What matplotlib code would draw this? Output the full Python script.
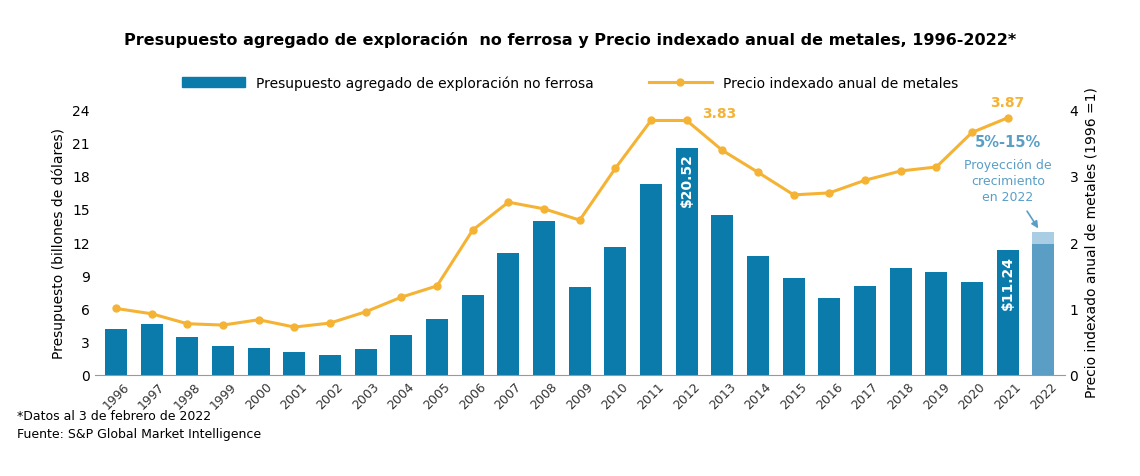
import matplotlib
matplotlib.use("Agg")
import matplotlib.pyplot as plt
import numpy as np

years = [str(y) for y in range(1996, 2023)]
budget = [4.15, 4.6, 3.4, 2.6, 2.4, 2.1, 1.8, 2.3, 3.6, 5.05, 7.2, 11.0, 13.9, 7.9, 11.55,
          17.2, 20.52, 14.4, 10.7, 8.75, 6.95, 8.0, 9.65, 9.3, 8.4, 11.24]
proj_low, proj_high = 11.8, 12.9
price = [1.0, 0.92, 0.77, 0.75, 0.83, 0.72, 0.78, 0.95, 1.17, 1.34, 2.18, 2.6, 2.5, 2.33, 3.11,
         3.83, 3.83, 3.38, 3.05, 2.71, 2.74, 2.93, 3.07, 3.13, 3.65, 3.87]

plt.rcParams['font.family'] = ['DejaVu Sans']
blue = '#0a7bab'
gold = '#f5b335'
fig = plt.figure(figsize=(11.4, 4.77), dpi=100)
ax = fig.add_axes([0.083, 0.212, 0.851, 0.557])
x = np.arange(len(years))
ax.bar(x[:-1], budget, width=0.62, color=blue, zorder=2)
ax.bar(x[-1], proj_low, width=0.62, color='#5a9ec6', zorder=2)
ax.bar(x[-1], proj_high - proj_low, bottom=proj_low, width=0.62, color='#a9cde3', zorder=2)
ax.set_ylim(0, 24)
ax.set_yticks(range(0, 25, 3))
ax.set_xlim(-0.6, len(years) - 0.4)
ax.set_xticks(x)
ax.set_xticklabels(years, rotation=45, fontsize=9, color='#333333')
ax.set_ylabel('Presupuesto (billones de dólares)', fontsize=10)
ax.tick_params(axis='y', labelsize=10, length=0)
ax.tick_params(axis='x', length=0)
for s in ['top', 'right', 'left']:
    ax.spines[s].set_visible(False)
ax.spines['bottom'].set_color('#999999')

ax2 = ax.twinx()
ax2.plot(x[:-1], price, color=gold, lw=2.2, marker='o', ms=5, zorder=3)
ax2.set_ylim(0, 4)
ax2.set_yticks(range(0, 5))
ax2.set_ylabel('Precio indexado anual de metales (1996 =1)', fontsize=10)
ax2.tick_params(axis='y', labelsize=10, length=0)
for s in ['top', 'right', 'left', 'bottom']:
    ax2.spines[s].set_visible(False)

ax.text(x[16], budget[16] - 0.4, '$20.52', rotation=90, ha='center', va='top', color='white', fontsize=10, fontweight='bold')
ax.text(x[25], budget[25] - 0.4, '$11.24', rotation=90, ha='center', va='top', color='white', fontsize=10, fontweight='bold')
ax2.text(x[16] + 0.9, 3.83, '3.83', color=gold, fontsize=10, fontweight='bold', ha='center', va='bottom')
ax2.text(x[25], 4.0, '3.87', color=gold, fontsize=10, fontweight='bold', ha='center', va='bottom')
ax2.annotate('', xy=(x[26] - 0.1, 2.17), xytext=(x[26] - 0.5, 2.5),
             arrowprops=dict(arrowstyle='-|>', color='#5a9ec6', lw=1.2))
ax.text(x[25], 20.7, '5%-15%', color='#5a9ec6', fontsize=10.5, fontweight='bold', ha='center')
ax.text(x[25], 15.8, 'Proyección de\ncrecimiento\nen 2022', color='#5a9ec6', fontsize=9, ha='center', linespacing=1.3)

fig.text(0.5, 0.905, 'Presupuesto agregado de exploración  no ferrosa y Precio indexado anual de metales, 1996-2022*',
         ha='center', fontsize=11.5, fontweight='bold')
h1 = plt.Rectangle((0, 0), 1, 1, color=blue)
h2, = ax.plot([], [], color=gold, lw=2.2, marker='o', ms=5)
fig.legend([h1, h2], ['Presupuesto agregado de exploración no ferrosa', 'Precio indexado anual de metales'],
           loc='center', bbox_to_anchor=(0.5, 0.825), ncol=2, frameon=False, fontsize=10,
           handlelength=4.5, columnspacing=4)
fig.text(0.015, 0.075, '*Datos al 3 de febrero de 2022\nFuente: S&P Global Market Intelligence',
         fontsize=9, va='bottom', linespacing=1.5)
fig.savefig('out.png', dpi=100)
